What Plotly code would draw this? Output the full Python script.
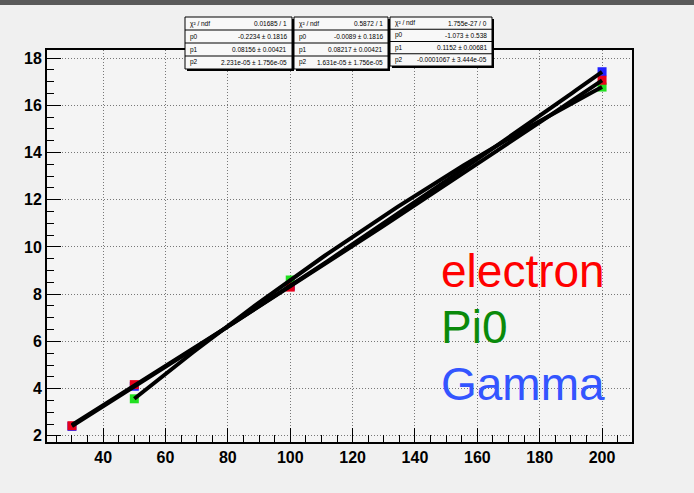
import numpy as np
import plotly.graph_objects as go

# ---- data ----
electron_x = [30, 50, 100, 200]
electron_y = [2.43, 4.17, 8.30, 17.06]
pi0_x = [50, 100, 200]
pi0_y = [3.57, 8.60, 16.77]
gamma_x = [30, 50, 100, 200]
gamma_y = [2.40, 4.10, 8.34, 17.42]

series_names = ["electron", "Pi0", "Gamma"]
series_text_colors = ["#ff0000", "#0a8a0a", "#3355ff"]
marker_colors = ["#e8001a", "#22e022", "#2020ff"]

x_ticks = [40, 60, 80, 100, 120, 140, 160, 180, 200]
y_ticks = [2, 4, 6, 8, 10, 12, 14, 16, 18]

stat_boxes = [
    [("χ² / ndf", "0.01685 / 1"), ("p0", "-0.2234 ± 0.1816"),
     ("p1", "0.08156 ± 0.00421"), ("p2", "2.231e-05 ± 1.756e-05")],
    [("χ² / ndf", "0.5872 / 1"), ("p0", "-0.0089 ± 0.1816"),
     ("p1", "0.08217 ± 0.00421"), ("p2", "1.631e-05 ± 1.756e-05")],
    [("χ² / ndf", "1.755e-27 / 0"), ("p0", "-1.073 ± 0.538"),
     ("p1", "0.1152 ± 0.00681"), ("p2", "-0.0001067 ± 3.444e-05")],
]

W, H = 694, 493
L, R, T, B = 47, 62, 50, 51
PW, PH = W - L - R, H - T - B


def px(x):
    return (x - L) / PW


def py(y):
    return (H - B - y) / PH


fig = go.Figure()

datasets = [(gamma_x, gamma_y, 2), (pi0_x, pi0_y, 1), (electron_x, electron_y, 0)]
for xs, ys, idx in datasets:
    fig.add_trace(go.Scatter(x=xs, y=ys, mode="markers",
                             marker=dict(symbol="square", size=9, color=marker_colors[idx],
                                         line=dict(width=0)),
                             showlegend=False, hoverinfo="skip"))

for xs, ys, idx in datasets:
    coef = np.polyfit(xs, ys, 2)
    xf = np.linspace(min(xs), max(xs), 200)
    yf = np.polyval(coef, xf)
    fig.add_trace(go.Scatter(x=xf, y=yf, mode="lines", line=dict(color="black", width=4),
                             showlegend=False, hoverinfo="skip"))

shapes = []
annotations = []

# dark window bar at top
shapes.append(dict(type="rect", xref="paper", yref="paper", x0=px(0), x1=px(W),
                   y0=py(5), y1=py(0), fillcolor="#5a5a5a", line=dict(width=0), layer="above"))

# stat boxes
box_geo = [(185, 292, 17, 69), (294, 388, 17, 69), (390, 492, 17, 66)]
for (x0, x1, y0, y1), rows in zip(box_geo, stat_boxes):
    shapes.append(dict(type="rect", xref="paper", yref="paper", x0=px(x0 + 2), x1=px(x1 + 2),
                       y0=py(y1 + 2), y1=py(y0 + 2), fillcolor="black",
                       line=dict(width=0), layer="above"))
    shapes.append(dict(type="rect", xref="paper", yref="paper", x0=px(x0), x1=px(x1),
                       y0=py(y1), y1=py(y0), fillcolor="#f8f8f8",
                       line=dict(color="black", width=1), layer="above"))
    rh = (y1 - y0) / 4
    for i, (lab, val) in enumerate(rows):
        if i > 0:
            shapes.append(dict(type="line", xref="paper", yref="paper", x0=px(x0), x1=px(x1),
                               y0=py(y0 + i * rh), y1=py(y0 + i * rh),
                               line=dict(color="black", width=1), layer="above"))
        yc = py(y0 + (i + 0.5) * rh)
        annotations.append(dict(xref="paper", yref="paper", x=px(x0 + 3), y=yc, text=lab,
                                showarrow=False, xanchor="left", yanchor="middle",
                                font=dict(size=6.5, color="black", family="Liberation Sans")))
        annotations.append(dict(xref="paper", yref="paper", x=px(x1 - 3), y=yc, text=val,
                                showarrow=False, xanchor="right", yanchor="middle",
                                font=dict(size=6.5, color="black", family="Liberation Sans")))

# legend text
leg_y = [271, 327, 384]
for name, col, yy in zip(series_names, series_text_colors, leg_y):
    annotations.append(dict(xref="paper", yref="paper", x=px(439), y=py(yy), text=name,
                            showarrow=False, xanchor="left", yanchor="middle",
                            font=dict(size=46, color=col, family="Liberation Sans")))

axis_common = dict(showline=True, linecolor="black", linewidth=2, mirror=True,
                   ticks="inside", ticklen=14, tickcolor="black", tickwidth=1,
                   showgrid=True, gridcolor="#777777", griddash="1px,2px", gridwidth=1,
                   zeroline=False,
                   tickfont=dict(size=16, color="black", family="Liberation Sans", weight="bold"))

fig.update_layout(
    width=W, height=H,
    margin=dict(l=L, r=R, t=T, b=B),
    paper_bgcolor="#f0f0f0", plot_bgcolor="#f4f4f4",
    xaxis=dict(range=[22, 209.6], tickmode="array", tickvals=x_ticks,
               minor=dict(dtick=5, tick0=0, ticklen=7, ticks="inside", tickcolor="black",
                          showgrid=False),
               **axis_common),
    yaxis=dict(range=[1.74, 18.34], tickmode="array", tickvals=y_ticks,
               minor=dict(dtick=0.5, tick0=0, ticklen=7, ticks="inside", tickcolor="black",
                          showgrid=False),
               **axis_common),
    shapes=shapes, annotations=annotations,
    showlegend=False,
)

fig.write_html("out.html")
